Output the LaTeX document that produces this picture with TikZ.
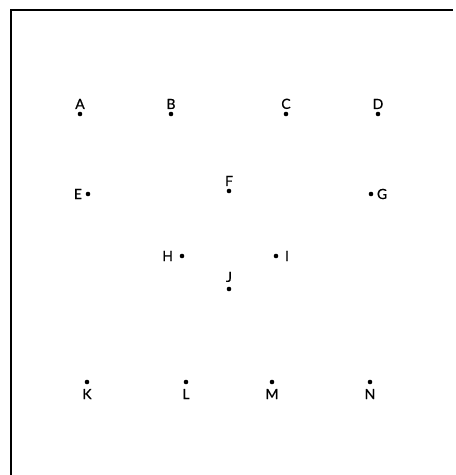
\documentclass[tikz,border=0pt]{standalone}
\usepackage{fontspec}
\setmainfont{Lato}
\newfontfamily\lblfont[FakeBold=0.6]{Lato}
\usetikzlibrary{positioning}

\begin{document}
\begin{tikzpicture}[
      x=1pt, y=-1pt,
      every node/.style={font=\lblfont\fontsize{14}{16}\selectfont},
      dot/.style={circle, fill, inner sep=0pt, minimum size=4.6pt},
      frame/.style={draw, line width=1.6pt},
  ]
      \useasboundingbox (0,0) rectangle (456,475);
      % Frame (only top and left edges fall inside the picture)
      \draw[frame] (11,475) -- (11,10) -- (453,10);

      % Top row
      \node[dot, label={[label distance=-1pt]above:A}] (A) at (80,114) {};
      \node[dot, label={[label distance=-1pt]above:B}] (B) at (171,114) {};
      \node[dot, label={[label distance=-1pt]above:C}] (C) at (286,114) {};
      \node[dot, label={[label distance=-1pt]above:D}] (D) at (378,114) {};

      % Second row
      \node[dot, label={[label distance=0pt]left:E}] (E) at (88,194) {};
      \node[dot, label={[label distance=-1pt]above:F}] (F) at (229,191) {};
      \node[dot, label={[label distance=0pt]right:G}] (G) at (371,194) {};

      % Third row
      \node[dot, label={[label distance=3pt]left:H}] (H) at (182,256) {};
      \node[dot, label={[label distance=3pt]right:I}] (I) at (276,256) {};
      \node[dot, label={[label distance=1pt]above:J}] (J) at (229,289) {};

      % Bottom row
      \node[dot, label={[label distance=1pt]below:K}] (K) at (87,382) {};
      \node[dot, label={[label distance=1pt]below:L}] (L) at (186,382) {};
      \node[dot, label={[label distance=1pt]below:M}] (M) at (272,382) {};
      \node[dot, label={[label distance=1pt]below:N}] (N) at (370,382) {};

\end{tikzpicture}
\end{document}
